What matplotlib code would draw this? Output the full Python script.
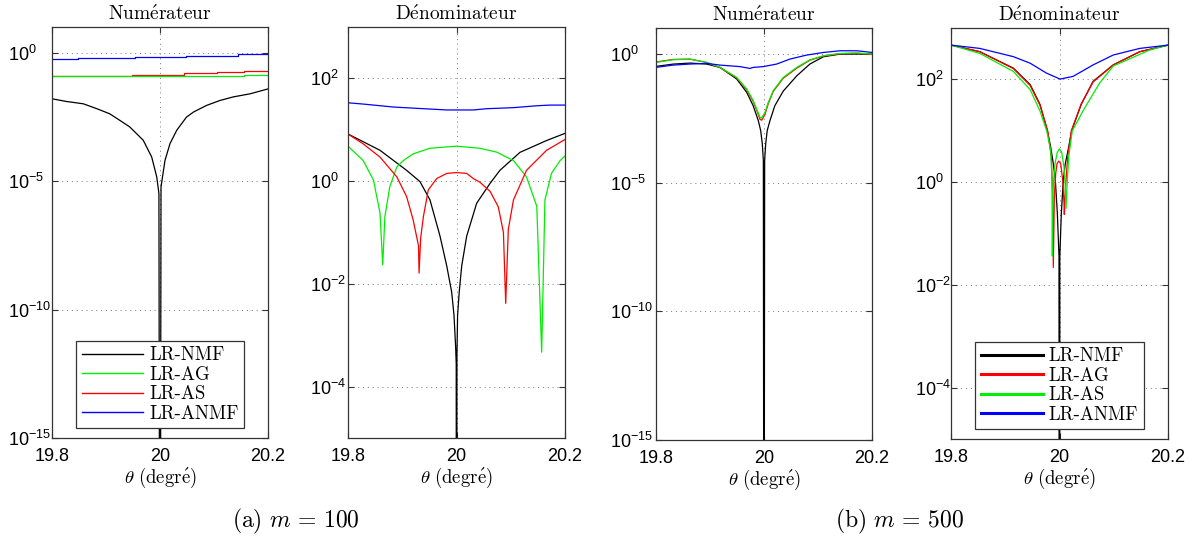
import numpy as np
import matplotlib
matplotlib.use('Agg')
import matplotlib.pyplot as plt
from matplotlib.ticker import NullLocator
from matplotlib.lines import Line2D

plt.rcParams['font.family'] = 'Liberation Sans'
plt.rcParams['mathtext.fontset'] = 'custom'
plt.rcParams['mathtext.rm'] = 'Liberation Sans'
plt.rcParams['mathtext.it'] = 'Liberation Sans:italic'
plt.rcParams['mathtext.bf'] = 'Liberation Sans:bold'

# ---- data : theta (degree) and log10 of the curve value ----
# (a) m = 100, numerateur
a_num_nmf_t = [19.8, 19.827, 19.858, 19.883, 19.907, 19.926, 19.944, 19.969, 19.9846, 19.9939,
               19.998, 20.0, 20.0019, 20.0093, 20.0185, 20.031, 20.049, 20.062, 20.0865,
               20.111, 20.136, 20.167, 20.2]
a_num_nmf_e = [-1.795, -1.90, -1.99, -2.18, -2.38, -2.64, -2.89, -3.41, -4.06, -4.83,
               -5.48, -30, -5.22, -4.19, -3.54, -3.02, -2.51, -2.31, -2.05,
               -1.86, -1.72, -1.60, -1.41]
a_num_ag_t = [19.8, 20.156, 20.2]
a_num_ag_e = [-0.92, -0.865, -0.865]
a_num_as_t = [19.8, 19.949, 20.045, 20.106, 20.156, 20.2]
a_num_as_e = [-0.92, -0.865, -0.80, -0.75, -0.71, -0.71]
a_num_anmf_t = [19.8, 19.848, 19.954, 20.049, 20.145, 20.2]
a_num_anmf_e = [-0.245, -0.206, -0.168, -0.129, -0.052, -0.052]

# (a) m = 100, denominateur
a_den_nmf_t = [19.8, 19.859, 19.908, 19.9327, 19.9511, 19.9696, 19.982, 19.9911, 19.9954,
               19.9985, 19.9995, 20.0, 20.0008, 20.002, 20.005, 20.0096, 20.0188, 20.0372,
               20.0618, 20.080, 20.117, 20.166, 20.2]
a_den_nmf_e = [0.917, 0.6, 0.21, -0.01, -0.365, -1.07, -1.65, -2.16, -2.61,
               -3.25, -3.57, -30, -3.4, -2.61, -2.16, -1.65, -1.07, -0.43,
               -0.045, 0.21, 0.56, 0.79, 0.93]
a_den_ag_t = [19.8, 19.828, 19.847, 19.859, 19.864, 19.868, 19.877, 19.890, 19.902, 19.920,
              19.951, 20.0, 20.043, 20.074, 20.105, 20.129, 20.148, 20.157, 20.163, 20.175,
              20.191, 20.2]
a_den_ag_e = [0.68, 0.40, 0.02, -0.62, -1.63, -0.69, -0.11, 0.276, 0.40, 0.53,
              0.64, 0.68, 0.64, 0.565, 0.40, 0.083, -0.49, -3.33, -0.365, 0.15,
              0.40, 0.49]
a_den_as_t = [19.8, 19.828, 19.859, 19.890, 19.908, 19.920, 19.930, 19.931, 19.934, 19.939,
              19.948, 19.9635, 19.982, 20.0, 20.019, 20.031, 20.043, 20.062, 20.077, 20.0865,
              20.0907, 20.0955, 20.105, 20.129, 20.166, 20.2]
a_den_as_e = [0.917, 0.725, 0.468, 0.083, -0.30, -0.75, -1.26, -1.79, -1.1, -0.69,
              -0.17, 0.05, 0.15, 0.167, 0.15, 0.05, -0.02, -0.2, -0.5, -1.0,
              -2.38, -0.94, -0.365, 0.21, 0.60, 0.81]
a_den_anmf_t = [19.8, 19.828, 19.884, 19.927, 19.982, 20.031, 20.056, 20.105, 20.148, 20.172, 20.2]
a_den_anmf_e = [1.525, 1.50, 1.442, 1.417, 1.385, 1.385, 1.41, 1.43, 1.467, 1.48, 1.48]

# (b) m = 500, numerateur
b_num_t = [19.8, 19.832, 19.863, 19.894, 19.9185, 19.9494, 19.968, 19.980, 19.9876, 19.9926,
           19.9957, 20.0019, 20.008, 20.0172, 20.0357, 20.0606, 20.085, 20.110, 20.141, 20.172, 20.2]
b_num_as_e = [-0.336, -0.233, -0.207, -0.336, -0.53, -0.92, -1.37, -1.82, -2.21, -2.47,
              -2.50, -2.27, -1.89, -1.43, -0.92, -0.53, -0.24, -0.078, 0.013, 0.03, -0.013]
b_num_ag_e = [-0.32, -0.22, -0.21, -0.34, -0.54, -0.93, -1.40, -1.85, -2.25, -2.55,
              -2.58, -2.35, -1.93, -1.46, -0.95, -0.56, -0.25, -0.09, 0.0, 0.02, -0.02]
b_num_nmf_t = [19.8, 19.832, 19.863, 19.894, 19.9185, 19.9494, 19.968, 19.980, 19.9895, 19.9938,
               19.9969, 19.9988, 20.0, 20.0012, 20.0031, 20.006, 20.011, 20.020, 20.0357,
               20.0606, 20.085, 20.110, 20.141, 20.2]
b_num_nmf_e = [-0.491, -0.401, -0.362, -0.401, -0.53, -0.98, -1.50, -2.02, -2.60, -2.98,
               -3.50, -4.15, -30, -4.15, -3.50, -2.98, -2.60, -2.02, -1.45,
               -0.86, -0.40, -0.117, -0.013, -0.013]
b_num_anmf_t = [19.8, 19.832, 19.863, 19.894, 19.9185, 19.9556, 19.974, 19.980, 19.9987, 20.0235,
                20.048, 20.079, 20.110, 20.141, 20.172, 20.2]
b_num_anmf_e = [-0.53, -0.44, -0.40, -0.375, -0.44, -0.50, -0.57, -0.53, -0.50, -0.40,
                -0.207, -0.052, 0.05, 0.116, 0.116, 0.051]

# (b) m = 500, denominateur
b_den_nmf_t = [19.8, 19.853, 19.915, 19.946, 19.964, 19.9776, 19.9838, 19.9886, 19.9923, 19.996,
               19.9991, 20.0, 20.0006, 20.0034, 20.007, 20.0107, 20.0169, 20.0224, 20.04,
               20.062, 20.099, 20.148, 20.2]
b_den_nmf_e = [2.667, 2.538, 2.218, 1.897, 1.513, 1.0, 0.68, 0.36, 0.04, -0.60,
               -1.44, -30, -1.44, -0.60, 0.04, 0.36, 0.68, 1.0, 1.513,
               1.962, 2.282, 2.538, 2.667]
b_den_ag_t = [19.8, 19.853, 19.915, 19.946, 19.964, 19.9782, 19.9849, 19.9874, 19.9886, 19.9905,
              19.993, 19.9954, 19.9985, 20.0022, 20.0059, 20.0083, 20.0089, 20.0107, 20.0151,
              20.0218, 20.04, 20.062, 20.099, 20.148, 20.2]
b_den_ag_e = [2.667, 2.54, 2.21, 1.88, 1.50, 1.0, 0.487, -0.28, -1.66, -0.28,
              0.167, 0.36, 0.41, 0.36, 0.04, -0.41, -0.63, -0.15, 0.487,
              1.0, 1.52, 1.95, 2.28, 2.54, 2.667]
b_den_as_t = [19.8, 19.853, 19.915, 19.946, 19.964, 19.9764, 19.9838, 19.9862, 19.9868, 19.9876,
              19.9893, 19.9917, 19.996, 19.9997, 20.004, 20.0083, 20.0107, 20.012, 20.0138,
              20.0169, 20.0236, 20.044, 20.074, 20.099, 20.166, 20.2]
b_den_as_e = [2.667, 2.506, 2.154, 1.80, 1.385, 1.0, 0.615, 0.04, -1.44, -0.3,
              0.04, 0.36, 0.583, 0.647, 0.583, 0.295, -0.09, -0.51, -0.09,
              0.487, 1.0, 1.40, 1.93, 2.26, 2.57, 2.667]
b_den_anmf_t = [19.8, 19.853, 19.915, 19.946, 19.976, 20.001, 20.025, 20.062, 20.099, 20.148, 20.2]
b_den_anmf_e = [2.667, 2.603, 2.442, 2.314, 2.122, 2.006, 2.058, 2.282, 2.474, 2.603, 2.667]

labels_a = ['LR-NMF', 'LR-AG', 'LR-AS', 'LR-ANMF']
labels_b = ['LR-NMF', 'LR-AG', 'LR-AS', 'LR-ANMF']
x_ticks = [19.8, 20, 20.2]
x_ticklabels = ['19.8', '20', '20.2']
num_yticks = [1e-15, 1e-10, 1e-5, 1e0]
den_yticks = [1e-4, 1e-2, 1e0, 1e2]

BLACK, GREEN, RED, BLUE = '#000000', '#00ee00', '#ff0000', '#0000ff'


def v(e):
    return 10.0 ** np.asarray(e, dtype=float)


def style(ax, yticks, ylim, title, ypad):
    ax.set_yscale('log')
    ax.set_xlim(19.8, 20.2)
    ax.set_ylim(*ylim)
    ax.set_xticks(x_ticks)
    ax.set_xticklabels(x_ticklabels)
    ax.set_yticks(yticks)
    ax.yaxis.set_minor_locator(NullLocator())
    ax.xaxis.set_minor_locator(NullLocator())
    ax.grid(True, which='major', linestyle=(0, (1, 4)), color='#777777', linewidth=0.7)
    ax.tick_params(direction='in', top=True, right=True, length=4, width=0.8,
                   labelsize=13, colors='#333333', labelcolor='black')
    ax.tick_params(axis='y', pad=ypad)
    ax.tick_params(axis='x', pad=7)
    for lbl in ax.get_yticklabels():
        lbl.set_horizontalalignment('left')
    for s in ax.spines.values():
        s.set_color('#333333')
        s.set_linewidth(0.9)
    ax.set_title(title, fontsize=14, math_fontfamily='cm', pad=5)
    ax.set_xlabel(r'$\theta\ \mathrm{(degr\acute{e})}$', fontsize=13.5,
                  math_fontfamily='cm', labelpad=1)


def legend(ax, handles, labels):
    lg = ax.legend(handles, labels, loc='lower center', bbox_to_anchor=(0.5, 0.024),
                   prop={'family': 'cmr10', 'size': 13.5}, fancybox=False,
                   edgecolor='#333333', framealpha=1, borderpad=0.3,
                   labelspacing=0.08, handlelength=3.3, handletextpad=0.3,
                   borderaxespad=0)
    lg.get_frame().set_linewidth(0.9)


fig = plt.figure(figsize=(11.95, 5.36), dpi=100)
W, H = 1195.0, 536.0
ax1 = fig.add_axes([52 / W, 1 - 438 / H, 216 / W, 411 / H])
ax2 = fig.add_axes([348 / W, 1 - 438 / H, 217 / W, 411 / H])
ax3 = fig.add_axes([656 / W, 1 - 440 / H, 216 / W, 412 / H])
ax4 = fig.add_axes([951 / W, 1 - 439 / H, 217 / W, 411 / H])

lw = 0.9
# (a) numerateur
ax1.plot(a_num_nmf_t, v(a_num_nmf_e), color=BLACK, lw=lw)
ax1.plot(a_num_as_t, v(a_num_as_e), color=RED, lw=lw, drawstyle='steps-post')
ax1.plot(a_num_ag_t, v(a_num_ag_e), color=GREEN, lw=lw, drawstyle='steps-post')
ax1.plot(a_num_anmf_t, v(a_num_anmf_e), color=BLUE, lw=lw, drawstyle='steps-post')
style(ax1, num_yticks, (1e-15, 1e1), r'$\mathrm{Num\acute{e}rateur}$', 32)
legend(ax1, [Line2D([], [], color=c, lw=1.0) for c in (BLACK, GREEN, RED, BLUE)], labels_a)

# (a) denominateur
ax2.plot(a_den_nmf_t, v(a_den_nmf_e), color=BLACK, lw=lw)
ax2.plot(a_den_ag_t, v(a_den_ag_e), color=GREEN, lw=lw)
ax2.plot(a_den_as_t, v(a_den_as_e), color=RED, lw=lw)
ax2.plot(a_den_anmf_t, v(a_den_anmf_e), color=BLUE, lw=lw)
style(ax2, den_yticks, (1e-5, 1e3), r'$\mathrm{D\acute{e}nominateur}$', 27)

# (b) numerateur
ax3.plot(b_num_nmf_t, v(b_num_nmf_e), color=BLACK, lw=lw)
ax3.plot(b_num_t, v(b_num_ag_e), color=RED, lw=lw)
ax3.plot(b_num_t, v(b_num_as_e), color=GREEN, lw=lw)
ax3.plot(b_num_anmf_t, v(b_num_anmf_e), color=BLUE, lw=lw)
style(ax3, num_yticks, (1e-15, 1e1), r'$\mathrm{Num\acute{e}rateur}$', 33)

# (b) denominateur
ax4.plot(b_den_nmf_t, v(b_den_nmf_e), color=BLACK, lw=lw)
ax4.plot(b_den_ag_t, v(b_den_ag_e), color=RED, lw=lw)
ax4.plot(b_den_as_t, v(b_den_as_e), color=GREEN, lw=lw)
ax4.plot(b_den_anmf_t, v(b_den_anmf_e), color=BLUE, lw=lw)
style(ax4, den_yticks, (1e-5, 1e3), r'$\mathrm{D\acute{e}nominateur}$', 26)
legend(ax4, [Line2D([], [], color=c, lw=2.2) for c in (BLACK, RED, GREEN, BLUE)], labels_b)

fig.text(296 / W, 1 - 521 / H, r'$\mathrm{(a)}\ m\,=\,100$', ha='center', va='center',
         fontsize=17, math_fontfamily='cm')
fig.text(900 / W, 1 - 521 / H, r'$\mathrm{(b)}\ m\,=\,500$', ha='center', va='center',
         fontsize=17, math_fontfamily='cm')

fig.savefig('out.png', dpi=100)
